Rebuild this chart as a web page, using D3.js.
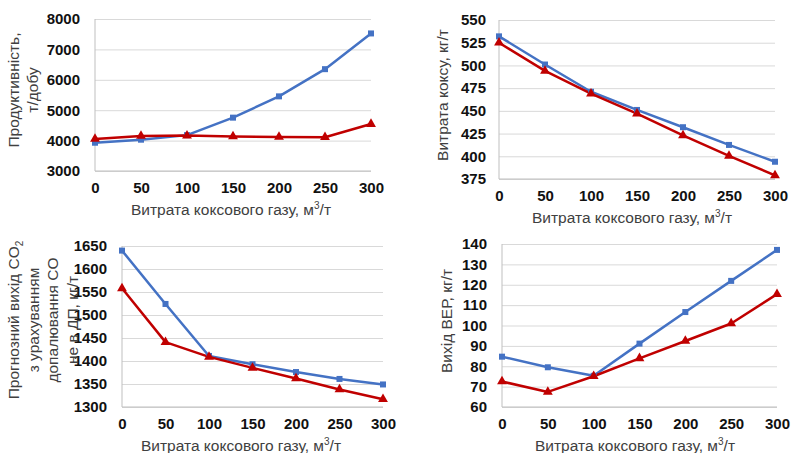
<!DOCTYPE html>
<html>
<head>
<meta charset="utf-8">
<script src="https://cdn.jsdelivr.net/npm/d3@7"></script>
<style>
  body { margin: 0; background: #fff; }
  svg { display: block; font-family: "Liberation Sans", Arial, sans-serif; }
</style>
</head>
<body>
<svg id="chart" width="791" height="453"></svg>
<script>
// gas consumption, m3/t
const gasRate = [0, 50, 100, 150, 200, 250, 300];

// productivity, t/day
const productivityBlue = [3930, 4030, 4180, 4755, 5455, 6350, 7525];
const productivityRed = [4055, 4155, 4165, 4135, 4120, 4110, 4545];
const productivityTicks = [3000, 4000, 5000, 6000, 7000, 8000];

// coke rate, kg/t
const cokeBlue = [532, 501, 471, 451, 432, 412.5, 394];
const cokeRed = [525, 494, 469, 447, 423, 400.5, 379];
const cokeTicks = [375, 400, 425, 450, 475, 500, 525, 550];

// CO2 output, kg/t
const co2Blue = [1640, 1524, 1411, 1393, 1376, 1361, 1349];
const co2Red = [1558, 1441, 1409, 1385, 1362, 1338, 1317];
const co2Ticks = [1300, 1350, 1400, 1450, 1500, 1550, 1600, 1650];

// secondary energy resources output, kg/t
const verBlue = [84.7, 79.5, 75.3, 91.1, 106.6, 121.9, 137.1];
const verRed = [72.5, 67.4, 75.1, 83.9, 92.4, 101, 115.4];
const verTicks = [60, 70, 80, 90, 100, 110, 120, 130, 140];

const xTicks = [0, 50, 100, 150, 200, 250, 300];

const blue = '#4472c4';
const red = '#c00000';
const tickFont = 15;

const svg = d3.select('#chart');

function drawPanel(cfg) {
  const g = svg.append('g');
  const x = d3.scaleLinear().domain([0, 300]).range([cfg.x0, cfg.x1]);
  const y = d3.scaleLinear().domain(d3.extent(cfg.yTicks)).range([cfg.yBot, cfg.yTop]);

  // gridlines
  g.append('g')
    .attr('transform', `translate(${cfg.x0},0)`)
    .call(d3.axisLeft(y).tickValues(cfg.yTicks).tickSize(-(cfg.x1 - cfg.x0)).tickFormat(''))
    .call(s => s.select('.domain').remove())
    .call(s => s.selectAll('line').attr('stroke', '#d9d9d9').attr('stroke-width', 1));

  // y tick labels
  g.append('g')
    .attr('transform', `translate(${cfg.x0},0)`)
    .call(d3.axisLeft(y).tickValues(cfg.yTicks).tickSize(0).tickPadding(cfg.yPad).tickFormat(d3.format('d')))
    .call(s => s.select('.domain').remove())
    .call(s => s.selectAll('text')
      .attr('font-family', '"Liberation Sans", Arial, sans-serif')
      .attr('font-size', tickFont).attr('font-weight', 'bold').attr('fill', '#111'));

  // x axis
  g.append('g')
    .attr('transform', `translate(0,${cfg.yBot})`)
    .call(d3.axisBottom(x).tickValues(xTicks).tickSize(0).tickPadding(11).tickFormat(d3.format('d')))
    .call(s => s.select('.domain').remove())
    .call(s => s.selectAll('text')
      .attr('font-family', '"Liberation Sans", Arial, sans-serif')
      .attr('font-size', tickFont).attr('font-weight', 'bold').attr('fill', '#111'));

  // axis lines
  g.append('line')
    .attr('x1', cfg.x0).attr('x2', cfg.x0).attr('y1', cfg.yTop).attr('y2', cfg.yBot)
    .attr('stroke', '#bfbfbf');
  g.append('line')
    .attr('x1', cfg.x0).attr('x2', cfg.x1).attr('y1', cfg.yBot).attr('y2', cfg.yBot)
    .attr('stroke', '#bfbfbf');

  // x title
  const xt = g.append('text')
    .attr('x', cfg.xTitleX).attr('y', cfg.yBot + 44)
    .attr('text-anchor', 'middle')
    .attr('font-size', 15.5).attr('fill', '#404040');
  xt.append('tspan').text('Витрата коксового газу, м');
  xt.append('tspan').attr('font-size', 10).attr('dy', -6).text('3');
  xt.append('tspan').attr('dy', 6).text('/т');

  // y title (rotated, lines go left to right)
  const yt = g.append('text')
    .attr('transform', `translate(${cfg.yTitleX},${cfg.yTitleY}) rotate(-90)`)
    .attr('text-anchor', 'middle')
    .attr('font-size', 15.5).attr('fill', '#404040');
  cfg.yTitle.forEach((ln, i) => {
    const t = yt.append('tspan').attr('x', 0).attr('y', i * cfg.lineGap);
    if (ln.sub) {
      t.append('tspan').text(ln.text);
      t.append('tspan').attr('font-size', 10).attr('dy', 4).text(ln.sub);
    } else {
      t.text(ln.text);
    }
  });

  const line = d3.line().x((d, i) => x(gasRate[i])).y(d => y(d));

  g.append('path').datum(cfg.blue)
    .attr('fill', 'none').attr('stroke', blue).attr('stroke-width', 2.5)
    .attr('stroke-linejoin', 'round').attr('d', line);
  g.append('path').datum(cfg.red)
    .attr('fill', 'none').attr('stroke', red).attr('stroke-width', 2.5)
    .attr('stroke-linejoin', 'round').attr('d', line);

  g.selectAll('.sq').data(cfg.blue).join('rect')
    .attr('x', (d, i) => x(gasRate[i]) - 3).attr('y', d => y(d) - 3)
    .attr('width', 6).attr('height', 6).attr('fill', blue);

  const tri = d3.symbol().type(d3.symbolTriangle).size(42);
  g.selectAll('.tri').data(cfg.red).join('path')
    .attr('transform', (d, i) => `translate(${x(gasRate[i])},${y(d)})`)
    .attr('d', tri).attr('fill', red);
}

drawPanel({
  x0: 95, x1: 371, yTop: 19, yBot: 171, yPad: 15,
  yTicks: productivityTicks, blue: productivityBlue, red: productivityRed,
  xTitleX: 231, yTitleX: 19, yTitleY: 90, lineGap: 19,
  yTitle: [{ text: 'Продуктивність,' }, { text: 'т/добу' }]
});

drawPanel({
  x0: 499, x1: 775, yTop: 20, yBot: 179, yPad: 13,
  yTicks: cokeTicks, blue: cokeBlue, red: cokeRed,
  xTitleX: 632, yTitleX: 448, yTitleY: 95, lineGap: 19,
  yTitle: [{ text: 'Витрата коксу, кг/т' }]
});

drawPanel({
  x0: 122, x1: 383, yTop: 246, yBot: 407, yPad: 15,
  yTicks: co2Ticks, blue: co2Blue, red: co2Red,
  xTitleX: 241, yTitleX: 19, yTitleY: 320, lineGap: 19.5,
  yTitle: [
    { text: 'Прогнозний вихід  CO', sub: '2' },
    { text: 'з урахуванням' },
    { text: 'допалювання CO' },
    { text: 'не в ДП, кг/т' }
  ]
});

drawPanel({
  x0: 502, x1: 777, yTop: 244, yBot: 407, yPad: 15,
  yTicks: verTicks, blue: verBlue, red: verRed,
  xTitleX: 635, yTitleX: 452, yTitleY: 321, lineGap: 19,
  yTitle: [{ text: 'Вихід ВЕР, кг/т' }]
});
</script>
</body>
</html>
